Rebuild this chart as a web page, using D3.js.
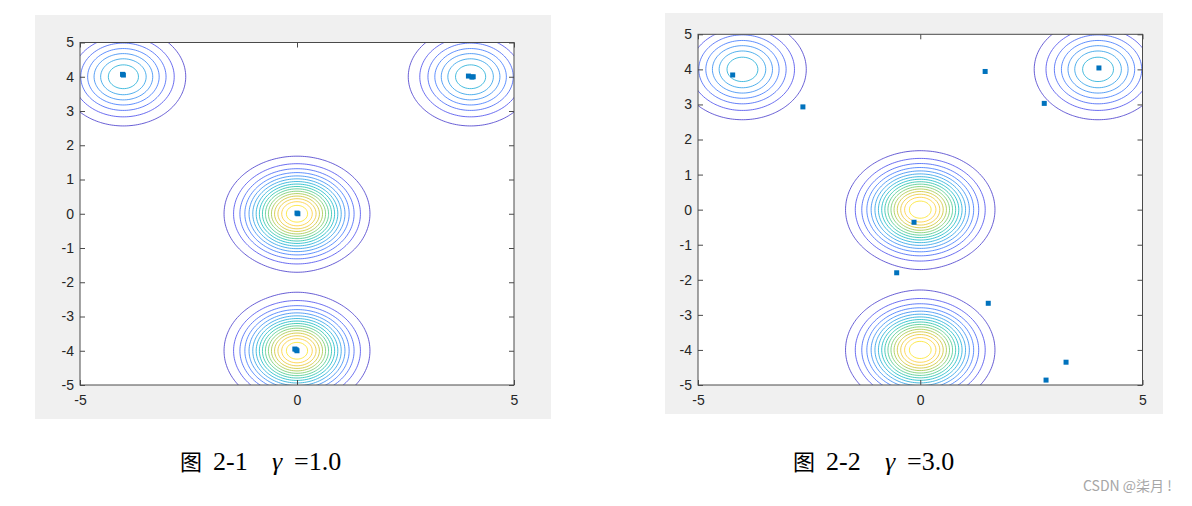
<!DOCTYPE html>
<html><head><meta charset="utf-8">
<script src="https://cdn.jsdelivr.net/npm/d3@7"></script>
<style>body{margin:0;background:#fff;} svg{display:block;}</style>
</head><body>
<svg id="c" width="1192" height="506"></svg>
<script>
// ---- data ----
const xTicks = [-5, 0, 5];
const yTicks = [-5, -4, -3, -2, -1, 0, 1, 2, 3, 4, 5];
// Gaussian mixture components drawn as contours
const centersX = [-4, 4, 0, 0];
const centersY = [4, 4, 0, -4];
const peaks = [0.465, 0.465, 1, 1];
const sigmas = [0.706, 0.706, 0.706, 0.706];
const levels = [0.0588, 0.1176, 0.1765, 0.2353, 0.2941, 0.3529, 0.4118, 0.4706,
                0.5294, 0.5882, 0.6471, 0.7059, 0.7647, 0.8235, 0.8824, 0.9412];
// estimated centres, gamma = 1.0
const pts1X = [-4.02, -4.00, 3.95, 4.06, 4.03, 0.02, 0.00, -0.05, 0.00, -0.02];
const pts1Y = [4.07, 4.05, 4.02, 4.00, 3.99, 0.00, 0.02, -3.95, -4.00, -3.97];
// estimated centres, gamma = 3.0
const pts3X = [-4.22, -2.64, 1.46, 2.79, 4.02, -0.14, -0.53, 1.53, 3.28, 2.83];
const pts3Y = [3.84, 2.93, 3.94, 3.03, 4.04, -0.36, -1.80, -2.67, -4.35, -4.86];
const captionFig = ["图", "图"];
const captionNum = ["2-1", "2-2"];
const captionGamma = ["=1.0", "=3.0"];

const parula = d3.scaleLinear()
  .domain([0, 0.111, 0.238, 0.365, 0.492, 0.619, 0.746, 0.873, 1])
  .range(["#3e26a8", "#4747eb", "#3875fe", "#23a0e5", "#0bbdbd", "#57cc7a", "#c5c22a", "#fec934", "#f9fb15"])
  .interpolate(d3.interpolateRgb);

// density grid
const G0 = -7, G1 = 7, N = 280, step = (G1 - G0) / N;
const values = new Float64Array(N * N);
for (let j = 0; j < N; j++) {
  const y = G1 - (j + 0.5) * step;
  for (let i = 0; i < N; i++) {
    const x = G0 + (i + 0.5) * step;
    let v = 0;
    for (let k = 0; k < centersX.length; k++) {
      const dx = x - centersX[k], dy = y - centersY[k];
      v += peaks[k] * Math.exp(-(dx * dx + dy * dy) / (2 * sigmas[k] * sigmas[k]));
    }
    values[j * N + i] = v;
  }
}
const contours = d3.contours().size([N, N]).thresholds(levels)(values);

const panels = [
  {bg: [35, 15, 516, 404], plot: [80, 514, 42.5, 385], px: pts1X, py: pts1Y, cap: 180},
  {bg: [665, 13, 498, 401], plot: [698, 1142.5, 34.3, 385], px: pts3X, py: pts3Y, cap: 793}
];

const svg = d3.select("#c");
const fontTick = "'Liberation Sans', Arial, sans-serif";
const fmt = d => String(d);

panels.forEach((p, idx) => {
  const [x0, x1, y0, y1] = p.plot;
  svg.append("rect").attr("x", p.bg[0]).attr("y", p.bg[1]).attr("width", p.bg[2]).attr("height", p.bg[3]).attr("fill", "#f0f0f0");
  svg.append("rect").attr("x", x0).attr("y", y0).attr("width", x1 - x0).attr("height", y1 - y0).attr("fill", "#fff");
  const xs = d3.scaleLinear().domain([-5, 5]).range([x0, x1]);
  const ys = d3.scaleLinear().domain([-5, 5]).range([y1, y0]);
  const clipId = "clip" + idx;
  svg.append("clipPath").attr("id", clipId).append("rect")
    .attr("x", x0).attr("y", y0).attr("width", x1 - x0).attr("height", y1 - y0);
  const path = d3.geoPath(d3.geoTransform({
    point(gx, gy) { this.stream.point(xs(G0 + gx * step), ys(G1 - gy * step)); }
  }));
  const g = svg.append("g").attr("clip-path", `url(#${clipId})`);
  g.selectAll("path").data(contours).join("path")
    .attr("d", path).attr("fill", "none")
    .attr("stroke", d => parula(d.value)).attr("stroke-width", 1).attr("stroke-opacity", 0.8);
  // points
  const pts = p.px.map((x, i) => [x, p.py[i]]);
  g.selectAll("rect.pt").data(pts).join("rect").attr("class", "pt")
    .attr("x", d => xs(d[0]) - 2.5).attr("y", d => ys(d[1]) - 2.5)
    .attr("width", 5).attr("height", 5).attr("fill", "#0072BD");
  // axes
  const axCol = "#4a4a4a";
  const ax = [
    svg.append("g").attr("transform", `translate(${x0},0)`).call(d3.axisLeft(ys).tickValues(yTicks).tickSizeInner(-5).tickSizeOuter(0).tickPadding(6).tickFormat(fmt)),
    svg.append("g").attr("transform", `translate(${x1},0)`).call(d3.axisRight(ys).tickValues(yTicks).tickSizeInner(-5).tickSizeOuter(0).tickFormat("")),
    svg.append("g").attr("transform", `translate(0,${y1})`).call(d3.axisBottom(xs).tickValues(xTicks).tickSizeInner(-5).tickSizeOuter(0).tickPadding(10).tickFormat(fmt)),
    svg.append("g").attr("transform", `translate(0,${y0})`).call(d3.axisTop(xs).tickValues(xTicks).tickSizeInner(-5).tickSizeOuter(0).tickFormat(""))
  ];
  ax.forEach(a => {
    a.select(".domain").remove();
    a.selectAll("line").attr("stroke", axCol);
    a.selectAll("text").attr("fill", "#262626").style("font-family", fontTick).style("font-size", "14px");
  });
  svg.append("rect").attr("x", x0).attr("y", y0).attr("width", x1 - x0).attr("height", y1 - y0)
    .attr("fill", "none").attr("stroke", axCol).attr("stroke-width", 1);
  // caption
  const c = svg.append("text").attr("y", 470).attr("fill", "#000");
  c.append("tspan").attr("x", p.cap).style("font-family", "'Noto Sans CJK SC'").style("font-size", "22px").text(captionFig[idx]);
  c.append("tspan").attr("x", p.cap + 33).style("font-family", "'Liberation Serif', serif").style("font-size", "26px").text(captionNum[idx]);
  c.append("tspan").attr("x", p.cap + 92).style("font-family", "'Liberation Serif', serif").style("font-size", "26px").style("font-style", "italic").text("γ");
  c.append("tspan").attr("x", p.cap + 114).style("font-family", "'Liberation Serif', serif").style("font-size", "26px").text(captionGamma[idx]);
});

svg.append("text").attr("x", 1083).attr("y", 491).attr("fill", "#a6a6a6")
  .style("font-family", "'Noto Sans CJK SC', sans-serif").style("font-size", "14px").text("CSDN @柒月 !");
</script>
</body></html>
